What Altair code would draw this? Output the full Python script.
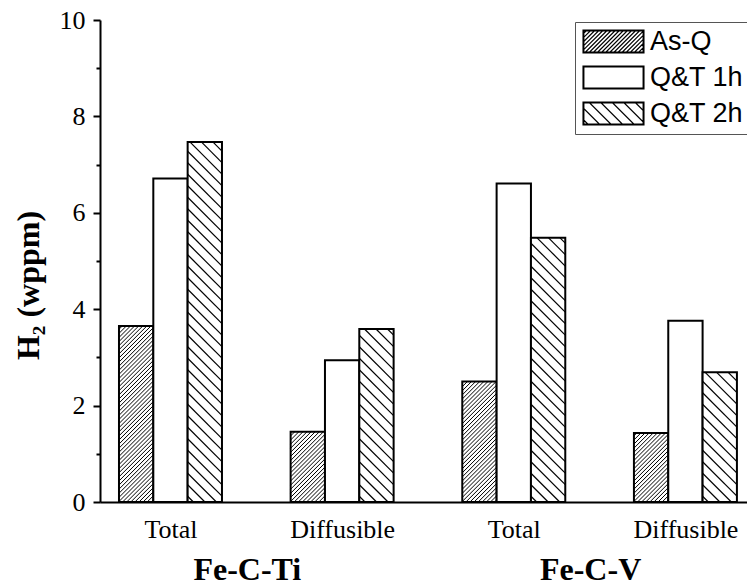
import math
import altair as alt
import pandas as pd

# ---------------- data ----------------
groups = ["Total", "Diffusible", "Total", "Diffusible"]
alloys = ["Fe-C-Ti", "Fe-C-V"]
series = ["As-Q", "Q&T 1h", "Q&T 2h"]
as_q = [3.65, 1.46, 2.50, 1.43]
qt_1h = [6.71, 2.94, 6.61, 3.76]
qt_2h = [7.47, 3.59, 5.48, 2.69]
y_labels = [0, 2, 4, 6, 8, 10]
y_minor = [1, 3, 5, 7, 9]

# ---------------- style / layout ----------------
W, H = 647, 482
GROUP_STEP = 5
X_MIN = -0.553
X_MAX = X_MIN + W / 34.33
Y_MAX = 10
PX = W / (X_MAX - X_MIN)
PY = H / Y_MAX

hatch_dir = {"As-Q": "/", "Q&T 1h": None, "Q&T 2h": "\\"}
hatch_period = {"As-Q": 4.1, "Q&T 2h": 11.5}
hatch_width = {"As-Q": 1.0, "Q&T 2h": 1.2}


def segments(w, h, direction, period):
    """Hatch segments inside a w x h box (pixel units, y up)."""
    out = []
    if direction == "/":
        c = -w + period / 2
        while c < h:
            xs, xe = max(0.0, -c), min(w, h - c)
            if xe - xs > 0.3:
                out.append((xs, xs + c, xe, xe + c))
            c += period
    elif direction == "\\":
        c = period / 2
        while c < w + h:
            xs, xe = max(0.0, c - h), min(w, c)
            if xe - xs > 0.3:
                out.append((xs, c - xs, xe, c - xe))
            c += period
    return out


values = {"As-Q": as_q, "Q&T 1h": qt_1h, "Q&T 2h": qt_2h}
bar_rows, hatch_rows = [], []
for g, cat in enumerate(groups):
    for s, name in enumerate(series):
        x0 = g * GROUP_STEP + s
        v = values[name][g]
        bar_rows.append({"x0": x0, "x1": x0 + 1, "xc": x0 + 0.5, "v": v, "zero": 0,
                         "series": name, "group": cat})
        d = hatch_dir[name]
        if d:
            for (a, b, c2, e) in segments(PX, v * PY, d, hatch_period[name]):
                hatch_rows.append({"hx": x0 + a / PX, "hy": b / PY,
                                   "hx2": x0 + c2 / PX, "hy2": e / PY,
                                   "sw": hatch_width[name]})

bars_df = pd.DataFrame(bar_rows)
hatch_df = pd.DataFrame(hatch_rows)
alloy_df = pd.DataFrame({"alloy": alloys,
                         "xp": [a * 2 * GROUP_STEP + (GROUP_STEP + 3) / 2 for a in range(len(alloys))]})

# legend swatch shapes (custom SVG paths); unit = half swatch height
SW, SH = 61, 23
U = SH / 2
SYM_SIZE = SH * SH


def sym_path(direction, period):
    xr = -1 + SW / U
    e = 0.9 / U
    parts = [f"M-1,-1H{xr:.3f}V1H-1Z",
             f"M{-1 + e:.3f},{-1 + e:.3f}H{xr - e:.3f}V{1 - e:.3f}H{-1 + e:.3f}Z"]
    if direction:
        for (a, b, c2, d2) in segments(SW, SH, direction, period):
            parts.append(f"M{a / U - 1:.3f},{1 - b / U:.3f}L{c2 / U - 1:.3f},{1 - d2 / U:.3f}")
    return "".join(parts)


shape_range = [sym_path(hatch_dir[n], hatch_period.get(n, 10)) for n in series]

x_ticks = [g * GROUP_STEP + 1.5 for g in range(len(groups))]
labels_js = "[" + ",".join(f"'{c}'" for c in groups) + "]"
x_scale = alt.Scale(domain=[X_MIN, X_MAX], nice=False, zero=False)
y_scale = alt.Scale(domain=[0, Y_MAX], nice=False)
major_js = "[" + ",".join(str(v) for v in y_labels) + "]"

x_axis = alt.Axis(values=x_ticks, title=None, grid=False, ticks=False, tickSize=0,
                  labelExpr=f"{labels_js}[round((datum.value - 1.5) / {GROUP_STEP})]",
                  labelFont="Liberation Serif", labelFontSize=26, labelColor="black",
                  labelPadding=14, labelFlush=False, labelOverlap=False,
                  domainColor="black", domainWidth=2)
y_axis = alt.Axis(values=sorted(y_labels + y_minor), title="H₂ (wppm)", grid=False,
                  labelExpr=f"indexof({major_js}, datum.value) >= 0 ? datum.label : ''",
                  tickSize={"condition": {"test": f"indexof({major_js}, datum.value) >= 0", "value": 7}, "value": 4},
                  tickColor="black", tickWidth=2, domainColor="black", domainWidth=2,
                  labelFont="Liberation Serif", labelFontSize=26, labelColor="black",
                  labelPadding=8, labelOverlap=False,
                  titleFont="Liberation Serif", titleFontSize=32, titleFontWeight="bold",
                  titleColor="black", titleX=-62, titleY=265, titleAlign="center",
                  titleBaseline="alphabetic", titleAngle=270)

bars = alt.Chart(bars_df).mark_rect(fill="white", stroke="black", strokeWidth=2).encode(
    x=alt.X("x0:Q", scale=x_scale, axis=x_axis),
    x2="x1:Q",
    y=alt.Y("v:Q", scale=y_scale, axis=y_axis),
    y2="zero:Q",
)

hatch = alt.Chart(hatch_df).mark_rule(color="black").encode(
    x="hx:Q", x2="hx2:Q", y="hy:Q", y2="hy2:Q",
    strokeWidth=alt.StrokeWidth("sw:Q", scale=None),
)

legend_pts = alt.Chart(bars_df).mark_point(opacity=0, filled=False, color="black", strokeWidth=1.1).encode(
    x="xc:Q", y="v:Q",
    shape=alt.Shape("series:N", scale=alt.Scale(domain=series, range=shape_range),
                    legend=alt.Legend(orient="none", legendX=475, legendY=2, title=None,
                                      labelFont="Liberation Sans", labelFontSize=27, labelColor="black",
                                      symbolSize=SYM_SIZE, symbolStrokeWidth=1.1, symbolStrokeColor="black",
                                      symbolFillColor="white", symbolOpacity=1,
                                      padding=6, rowPadding=7, labelOffset=42,
                                      strokeColor="#555555", fillColor="white")),
)

alloy_text = alt.Chart(alloy_df).mark_text(font="Liberation Serif", fontSize=32, fontWeight="bold",
                                            baseline="alphabetic", align="center", dx=-9, color="black").encode(
    x="xp:Q", y=alt.value(560), text="alloy:N")

chart = alt.layer(bars, hatch, legend_pts, alloy_text).properties(
    width=W, height=H,
    autosize=alt.AutoSizeParams(type="none"),
    padding={"left": 100, "top": 20, "right": 0, "bottom": 85},
).configure_view(stroke=None)

chart.save("out.html", embed_options={"renderer": "svg", "actions": False})
